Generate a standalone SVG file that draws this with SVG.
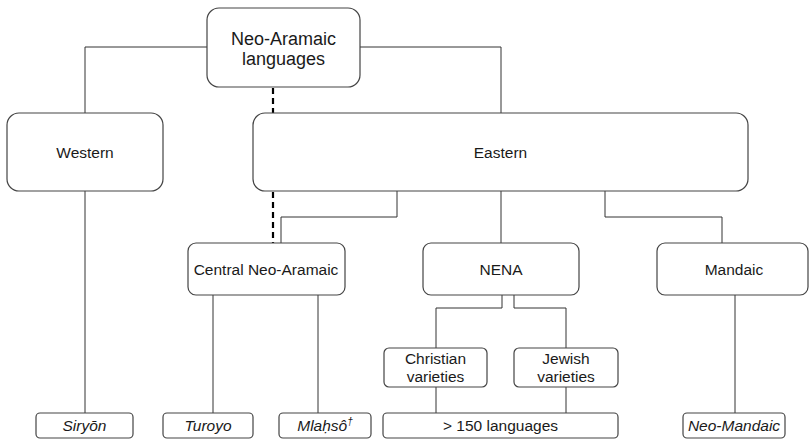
<svg xmlns="http://www.w3.org/2000/svg" width="809" height="440" viewBox="0 0 809 440">
<style>
.box{fill:#fff;stroke:#444;stroke-width:1.2}
.t{font-family:"Liberation Sans",Arial,sans-serif;font-size:15.5px;fill:#1a1a1a;text-anchor:middle}
.big{font-size:18px}
.it{font-style:italic}
.ln{fill:none;stroke:#333;stroke-width:1}
.dash{fill:none;stroke:#000;stroke-width:2.2;stroke-dasharray:6 4}
</style>
<rect width="809" height="440" fill="#fff"/>
<g id="connectors">
<polyline class="ln" points="207,47 85,47 85,113"/>
<polyline class="ln" points="360,47 501,47 501,113"/>
<line class="dash" x1="273" y1="88" x2="273" y2="113"/>
<line class="dash" x1="273" y1="192" x2="273" y2="243"/>
<polyline class="ln" points="397,191 397,217 281,217 281,243"/>
<line class="ln" x1="501" y1="191" x2="501" y2="243"/>
<polyline class="ln" points="605,191 605,217 722,217 722,243"/>
<line class="ln" x1="85" y1="191" x2="85" y2="413"/>
<line class="ln" x1="213" y1="295" x2="213" y2="413"/>
<line class="ln" x1="318" y1="295" x2="318" y2="413" stroke="#777"/>
<polyline class="ln" points="502,295 502,308 436,308 436,348"/>
<polyline class="ln" points="514,295 514,308 566,308 566,348"/>
<line class="ln" x1="436" y1="387" x2="436" y2="413"/>
<line class="ln" x1="566" y1="387" x2="566" y2="413"/>
<line class="ln" x1="735" y1="295" x2="735" y2="413"/>
</g>
<g id="neo-aramaic">
<rect class="box" x="207" y="8" width="153" height="79" rx="12"/>
<text class="t big" x="283.5" y="45">Neo-Aramaic</text>
<text class="t big" x="283.5" y="65">languages</text>
</g>
<g id="western">
<rect class="box" x="7" y="113" width="156" height="78" rx="12"/>
<text class="t" x="85" y="158">Western</text>
</g>
<g id="eastern">
<rect class="box" x="253" y="113" width="495" height="78" rx="12"/>
<text class="t" x="500.5" y="158">Eastern</text>
</g>
<g id="central">
<rect class="box" x="188" y="243" width="157" height="52" rx="8"/>
<text class="t" x="266" y="275">Central Neo-Aramaic</text>
</g>
<g id="nena">
<rect class="box" x="423" y="243" width="156" height="52" rx="8"/>
<text class="t" x="501" y="275">NENA</text>
</g>
<g id="mandaic">
<rect class="box" x="657" y="243" width="151" height="52" rx="8"/>
<text class="t" x="734" y="275">Mandaic</text>
</g>
<g id="christian">
<rect class="box" x="384" y="348" width="103" height="39" rx="5"/>
<text class="t" x="435.5" y="364">Christian</text>
<text class="t" x="435.5" y="382">varieties</text>
</g>
<g id="jewish">
<rect class="box" x="514" y="348" width="104" height="39" rx="5"/>
<text class="t" x="566" y="364">Jewish</text>
<text class="t" x="566" y="382">varieties</text>
</g>
<g id="siryon">
<rect class="box" x="36" y="413" width="97" height="25" rx="4"/>
<text class="t it" x="84.5" y="431">Siryōn</text>
</g>
<g id="turoyo">
<rect class="box" x="163" y="413" width="90" height="25" rx="4"/>
<text class="t it" x="208" y="431">Turoyo</text>
</g>
<g id="mlahso">
<rect class="box" x="279" y="413" width="92" height="25" rx="4"/>
<text class="t it" x="325" y="431">Mlaḥsô<tspan font-size="10" dy="-6">†</tspan></text>
</g>
<g id="languages150">
<rect class="box" x="383" y="413" width="235" height="25" rx="4"/>
<text class="t" x="500.5" y="431">&gt; 150 languages</text>
</g>
<g id="neo-mandaic">
<rect class="box" x="683" y="413" width="102" height="25" rx="4"/>
<text class="t it" x="734" y="431">Neo-Mandaic</text>
</g>
</svg>
